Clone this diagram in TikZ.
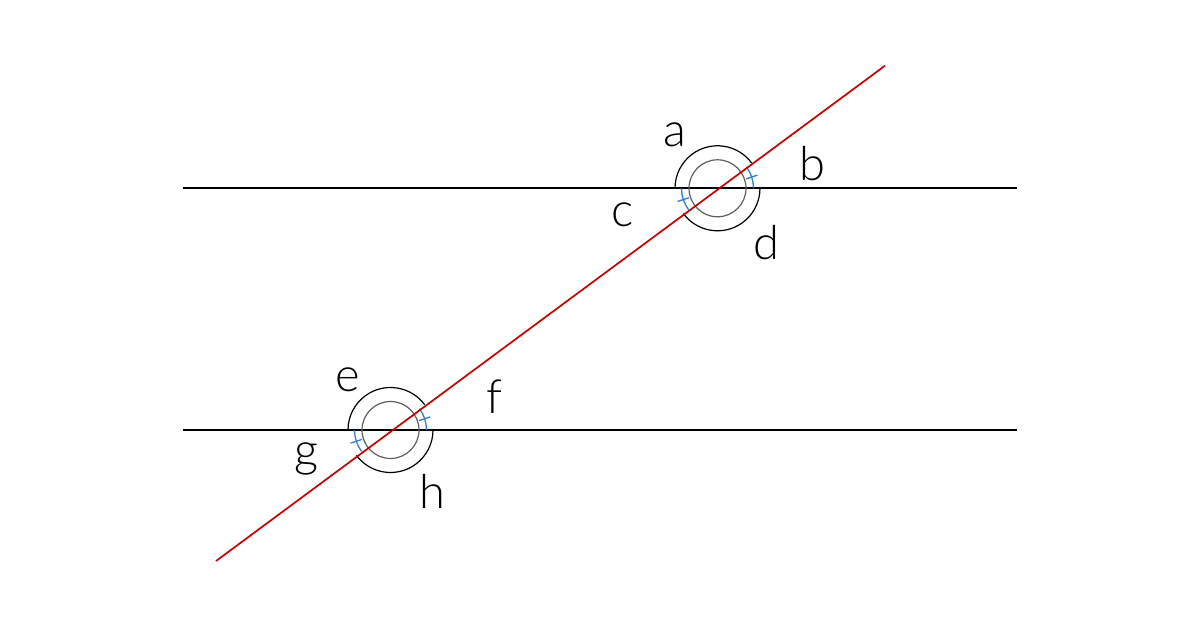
\documentclass[tikz,border=0pt]{standalone}
\usepackage{fontspec}
\IfFontExistsTF{Lato Light}{\setmainfont{Lato Light}}{\setmainfont{Lato}}
\begin{document}
\begin{tikzpicture}[x=1pt,y=1pt,
  hline/.style={black,line width=1.9pt},
  transversal/.style={draw={rgb,255:red,204;green,0;blue,0},line width=1.7pt},
  outerarc/.style={black,line width=1.2pt},
  innercirc/.style={draw={rgb,255:red,95;green,95;blue,95},line width=1.2pt},
  bluearc/.style={draw={rgb,255:red,50;green,125;blue,215},line width=1.3pt},
  lbl/.style={anchor=base,inner sep=0pt,font=\fontsize{47}{50}\selectfont}]
\useasboundingbox (0,0) rectangle (1200,628);
\fill[white] (0,0) rectangle (1200,628);
% lines
\coordinate (L1a) at (182.5,439.7); \coordinate (L1b) at (1016.5,439.7);
\coordinate (L2a) at (182.5,198);   \coordinate (L2b) at (1016.5,198);
\coordinate (T1) at (216,67); \coordinate (T2) at (885,562.3);
\draw[hline] (L1a) -- (L1b);
\draw[hline] (L2a) -- (L2b);
% angle marks
\coordinate (P1) at (717.5,439.7);
\coordinate (P2) at (390.5,198);
\foreach \p in {P1,P2}{
  \draw[innercirc] (\p) circle[radius=28.5];
  \draw[outerarc] (\p) ++(36.5:42.5) arc[start angle=36.5,end angle=180,radius=42.5];
  \draw[outerarc] (\p) ++(216.5:42.5) arc[start angle=216.5,end angle=360,radius=42.5];
  \draw[bluearc] (\p) ++(0:36) arc[start angle=0,end angle=36.5,radius=36];
  \draw[bluearc] (\p) ++(180:36) arc[start angle=180,end angle=216.5,radius=36];
  \draw[bluearc] (\p) ++(18.25:30) -- ++(18.25:12);
  \draw[bluearc] (\p) ++(198.25:30) -- ++(198.25:12);
}
\draw[transversal] (T1) -- (T2);
% labels
\node[lbl] (a) at (675,481.3) {a};
\node[lbl] (b) at (812,447.3) {b};
\node[lbl] (c) at (622.5,401.3) {c};
\node[lbl] (d) at (766,368) {d};
\node[lbl] (e) at (348,236.3) {e};
\node[lbl] (f) at (494.5,214.7) {f};
\node[lbl] (g) at (306,161.3) {g};
\node[lbl] (h) at (432,119) {h};
\end{tikzpicture}
\end{document}
